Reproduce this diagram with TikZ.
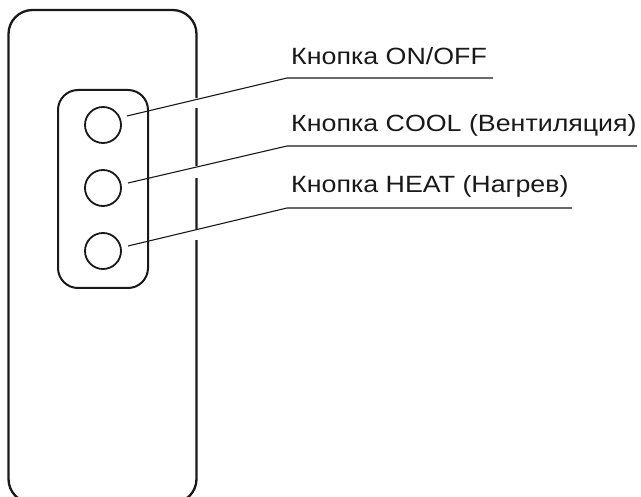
\documentclass[tikz,border=0pt]{standalone}
\usepackage{fontspec}
\setmainfont{Liberation Sans}[FakeStretch=1.14]
\begin{document}
\begin{tikzpicture}[x=1pt,y=-1pt,
  body/.style={draw=black!90,line width=2.3pt,rounded corners=24pt},
  panel/.style={draw=black!90,line width=2pt,rounded corners=20pt},
  btn/.style={circle,draw=black!90,line width=1.8pt,minimum size=36pt,inner sep=0pt},
  lbl/.style={anchor=base west,inner sep=0pt,font=\fontsize{23.5}{26}\selectfont,text=black!90},
  leader/.style={draw=black!90,line width=1.1pt},
  gap/.style={fill=white,draw=none}]
\useasboundingbox (0,0) rectangle (641,497);
\begin{scope}
\clip (0,0) rectangle (641,497);
\draw[body] (8.5,10) rectangle (196.5,503);
\end{scope}
\fill[gap] (192,98) rectangle (201,108);
\fill[gap] (192,166) rectangle (201,178);
\fill[gap] (192,229) rectangle (201,240);
\draw[panel] (58,90) rectangle (148,288);
\node[btn] (b1) at (103,125) {};
\node[btn] (b2) at (103,188) {};
\node[btn] (b3) at (103,251) {};
\node[lbl] (t1) at (291,65) {Кнопка ON/OFF};
\node[lbl] (t2) at (291,132) {Кнопка COOL (Вентиляция)};
\node[lbl] (t3) at (291,193) {Кнопка HEAT (Нагрев)};
\coordinate (s1) at (127,116);
\coordinate (s2) at (128,183);
\coordinate (s3) at (128,246);
\coordinate (e1) at (287,78);
\coordinate (e2) at (287,146);
\coordinate (e3) at (287,208);
\coordinate (h1) at (493,78);
\coordinate (h2) at (637,146);
\coordinate (h3) at (572,208);
\draw[leader] (s1) -- (e1) -- (h1);
\draw[leader] (s2) -- (e2) -- (h2);
\draw[leader] (s3) -- (e3) -- (h3);
\end{tikzpicture}
\end{document}
